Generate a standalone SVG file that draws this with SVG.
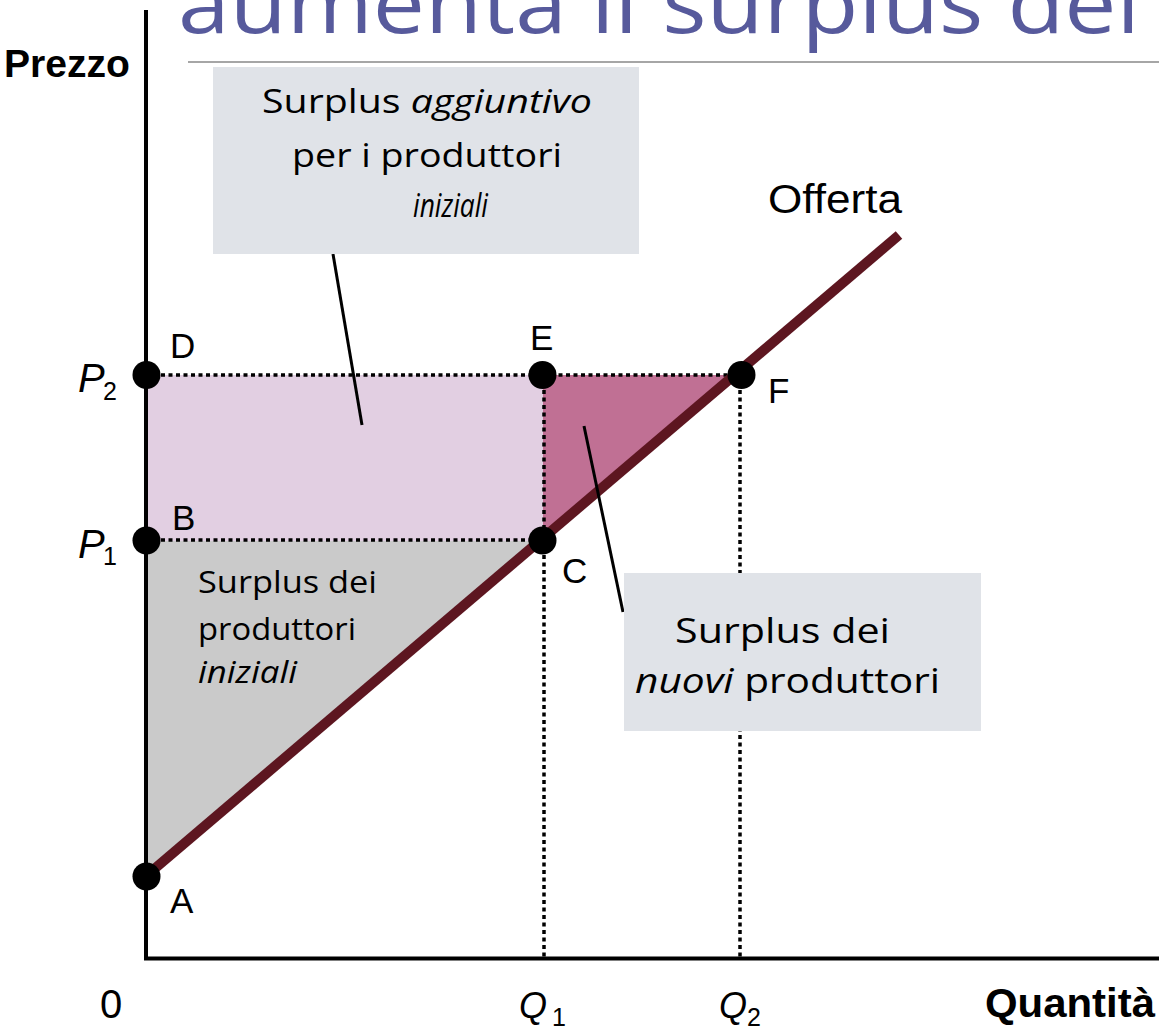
<svg xmlns="http://www.w3.org/2000/svg" width="1159" height="1027" viewBox="0 0 1159 1027">
<style>
.lbl{font-family:"Liberation Sans",Arial,sans-serif;font-size:35px;fill:#000}
.var{font-family:"Liberation Sans",Arial,sans-serif;font-style:italic;font-size:40px;fill:#000}
.sub{font-family:"Liberation Sans",Arial,sans-serif;font-size:25px;fill:#000}
.ax{font-family:"Liberation Sans",Arial,sans-serif;font-weight:bold;fill:#000}
.note{font-family:"Open Sans","Noto Sans",sans-serif;fill:#000}
.dot{fill:#000}
.dotted{stroke:#000;stroke-width:3.5;stroke-dasharray:4 3.5;fill:none}
.callout{stroke:#000;stroke-width:3;fill:none}
.box{fill:#e0e3e8}
</style>
<rect width="1159" height="1027" fill="#fff"/>
<g id="title">
<text x="178" y="33" font-family="'Open Sans','Noto Sans',sans-serif" font-weight="400" font-size="82" fill="#575a9c" textLength="962" lengthAdjust="spacingAndGlyphs">aumenta il surplus dei</text>
<line x1="188" y1="62" x2="1159" y2="62" stroke="#a6a6a6" stroke-width="2"/>
</g>
<g id="areas">
<rect id="area-purple" x="146" y="375" width="397" height="166" fill="#e2cfe2"/>
<polygon id="area-rose" points="543,375 742,375 543,541" fill="#c07094"/>
<polygon id="area-gray" points="146,876 146,541 543,541" fill="#cacaca"/>
</g>
<g id="connectors">
<line x1="146" y1="375" x2="742" y2="375" class="dotted"/>
<line x1="146" y1="540" x2="543" y2="540" class="dotted"/>
<line x1="544" y1="375" x2="544" y2="958" class="dotted"/>
<line x1="740" y1="375" x2="740" y2="958" class="dotted"/>
<line id="supply" x1="146" y1="876" x2="899" y2="235" stroke="#5d1620" stroke-width="10"/>
<line x1="333" y1="254" x2="362" y2="425" class="callout"/>
<line x1="584" y1="426" x2="623" y2="612" class="callout"/>
</g>
<g id="axes">
<line x1="146" y1="10" x2="146" y2="960" stroke="#000" stroke-width="4"/>
<line x1="144" y1="958.5" x2="1159" y2="958.5" stroke="#000" stroke-width="4"/>
<text class="ax" x="4" y="77" style="font-size:38px" textLength="126" lengthAdjust="spacingAndGlyphs">Prezzo</text>
<text class="ax" x="985" y="1017" style="font-size:41px" textLength="170" lengthAdjust="spacingAndGlyphs">Quantità</text>
<text class="lbl" x="100" y="1018" style="font-size:40px">0</text>
</g>
<g id="node-A"><circle class="dot" cx="146.5" cy="876.5" r="14"/><text class="lbl" x="170" y="913">A</text></g>
<g id="node-B"><circle class="dot" cx="146.5" cy="540.5" r="14"/><text class="lbl" x="172" y="530">B</text>
<text class="var" x="78" y="558">P</text><text class="sub" x="103" y="565">1</text></g>
<g id="node-D"><circle class="dot" cx="146.5" cy="375" r="14"/><text class="lbl" x="170" y="358">D</text>
<text class="var" x="78" y="392">P</text><text class="sub" x="103" y="400">2</text></g>
<g id="node-E"><circle class="dot" cx="542.5" cy="375" r="14"/><text class="lbl" x="530" y="350">E</text></g>
<g id="node-C"><circle class="dot" cx="542.5" cy="540.5" r="14"/><text class="lbl" x="562" y="583">C</text></g>
<g id="node-F"><circle class="dot" cx="741.5" cy="375" r="14"/><text class="lbl" x="768" y="403">F</text></g>
<g id="label-Q1"><text class="var" x="519" y="1018" style="font-size:36px">Q</text><text class="sub" x="552" y="1026">1</text></g>
<g id="label-Q2"><text class="var" x="719" y="1018" style="font-size:36px">Q</text><text class="sub" x="747" y="1026">2</text></g>
<g id="label-offerta"><text class="lbl" x="768" y="213" style="font-size:40px" textLength="134" lengthAdjust="spacingAndGlyphs">Offerta</text></g>
<g id="note-gray">
<text class="note" x="198" y="593" font-size="31" textLength="179" lengthAdjust="spacingAndGlyphs">Surplus dei</text>
<text class="note" x="198" y="640" font-size="31" textLength="158" lengthAdjust="spacingAndGlyphs">produttori</text>
<text class="note" x="198" y="683" font-size="31" font-style="italic" textLength="99" lengthAdjust="spacingAndGlyphs">iniziali</text>
</g>
<g id="box-aggiuntivo">
<rect class="box" x="213" y="67" width="426" height="187"/>
<text class="note" x="262" y="113" font-size="32" textLength="330" lengthAdjust="spacingAndGlyphs">Surplus <tspan font-style="italic">aggiuntivo</tspan></text>
<text class="note" x="292" y="167" font-size="32" textLength="270" lengthAdjust="spacingAndGlyphs">per i produttori</text>
<text class="note" x="413" y="217" font-size="32" font-style="italic" textLength="75" lengthAdjust="spacingAndGlyphs">iniziali</text>
</g>
<g id="box-nuovi">
<rect class="box" x="624" y="573" width="357" height="158"/>
<text class="note" x="675" y="643" font-size="34" textLength="215" lengthAdjust="spacingAndGlyphs">Surplus dei</text>
<text class="note" x="635" y="693" font-size="34" textLength="305" lengthAdjust="spacingAndGlyphs"><tspan font-style="italic">nuovi</tspan> produttori</text>
</g>
</svg>
